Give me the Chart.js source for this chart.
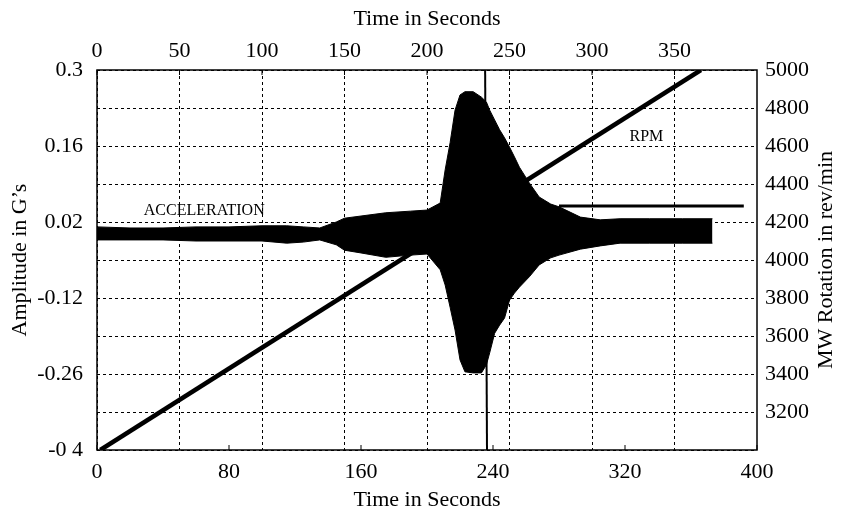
<!DOCTYPE html>
<html>
<head>
<meta charset="utf-8">
<script src="https://cdn.jsdelivr.net/npm/chart.js@4/dist/chart.umd.min.js"></script>
<style>
  body { margin: 0; background: #fff; }
  canvas { display: block; }
</style>
</head>
<body>
<canvas id="chart" width="842" height="513"></canvas>
<script>
// tiempos (s) donde se leyo la envolvente de la aceleracion
const accTimes = [0, 20, 40, 60, 80, 100, 115, 125, 135, 145, 150, 160, 175, 190, 200, 208, 211, 214, 217, 220, 223, 228, 233, 236, 238, 241, 244, 247, 250, 253, 256, 262, 268, 275, 280, 293, 305, 317, 335, 355, 373];
// borde superior e inferior de la banda (G)
const accUpper = [0.011, 0.009, 0.009, 0.011, 0.011, 0.013, 0.013, 0.011, 0.009, 0.020, 0.027, 0.031, 0.037, 0.040, 0.042, 0.055, 0.116, 0.166, 0.226, 0.254, 0.260, 0.260, 0.250, 0.241, 0.226, 0.208, 0.190, 0.175, 0.158, 0.140, 0.121, 0.092, 0.066, 0.053, 0.048, 0.029, 0.024, 0.026, 0.026, 0.026, 0.026];
const accLower = [-0.013, -0.013, -0.013, -0.015, -0.015, -0.015, -0.019, -0.017, -0.013, -0.022, -0.032, -0.037, -0.045, -0.041, -0.039, -0.068, -0.096, -0.137, -0.179, -0.234, -0.256, -0.258, -0.258, -0.243, -0.221, -0.185, -0.170, -0.157, -0.124, -0.111, -0.100, -0.081, -0.059, -0.046, -0.041, -0.030, -0.024, -0.019, -0.019, -0.019, -0.019];

// pico que sale del grafico
const spikeTimes = [235.2, 236.4];
const spikeValues = [0.32, -0.42];

// rpm del rotor
const rpmTimes = [2, 366];
const rpmValues = [3000, 5000];
const flatTimes = [280, 392];
const flatValues = [4284, 4284];

// etiquetas de los ejes
const leftTickValues = [-0.4, -0.26, -0.12, 0.02, 0.16, 0.3];
const leftTickLabels = ['-0 4', '-0.26', '-0.12', '0.02', '0.16', '0.3'];
const bottomTicks = [0, 80, 160, 240, 320, 400];
const topTicks = [0, 50, 100, 150, 200, 250, 300, 350];
const rightTicks = [3000, 3200, 3400, 3600, 3800, 4000, 4200, 4400, 4600, 4800, 5000];

const FONT = 'Liberation Serif, Times New Roman, serif';

const toXY = (xs, ys) => xs.map((x, i) => ({ x: x, y: ys[i] }));
const fixedTicks = vals => scale => { scale.ticks = vals.map(v => ({ value: v })); };

// caja, marcas interiores y textos
const extras = {
  id: 'extras',
  afterDraw(chart) {
    const { ctx, chartArea: a, scales } = chart;
    ctx.save();
    ctx.strokeStyle = '#000';
    ctx.lineWidth = 1.5;
    ctx.strokeRect(a.left, a.top, a.right - a.left, a.bottom - a.top);
    ctx.lineWidth = 1;
    ctx.beginPath();
    bottomTicks.forEach(v => {
      const px = scales.x.getPixelForValue(v);
      ctx.moveTo(px, a.bottom); ctx.lineTo(px, a.bottom - 5);
    });
    topTicks.forEach(v => {
      const px = scales.x2.getPixelForValue(v);
      ctx.moveTo(px, a.top); ctx.lineTo(px, a.top + 5);
    });
    ctx.stroke();

    ctx.fillStyle = '#000';
    ctx.font = '16px ' + FONT;
    ctx.textAlign = 'center';
    ctx.textBaseline = 'middle';
    ctx.fillText('ACCELERATION', scales.x.getPixelForValue(65), scales.y.getPixelForValue(0.04));
    ctx.fillText('RPM', scales.x.getPixelForValue(333), scales.yR.getPixelForValue(4647));

    // titulo del eje derecho, leido de abajo hacia arriba
    ctx.font = '22px ' + FONT;
    ctx.translate(826, (a.top + a.bottom) / 2);
    ctx.rotate(-Math.PI / 2);
    ctx.fillText('MW Rotation in rev/min', 0, 0);
    ctx.restore();
  }
};

const dashedGrid = { color: '#000', lineWidth: 1, drawTicks: false };

new Chart(document.getElementById('chart'), {
  type: 'line',
  data: {
    datasets: [
      { data: toXY(accTimes, accUpper), xAxisID: 'x', yAxisID: 'y', borderColor: '#000', borderWidth: 1, pointRadius: 0, fill: false, order: 2 },
      { data: toXY(accTimes, accLower), xAxisID: 'x', yAxisID: 'y', borderColor: '#000', borderWidth: 1, pointRadius: 0, fill: '-1', backgroundColor: '#000', order: 2 },
      { data: toXY(spikeTimes, spikeValues), xAxisID: 'x', yAxisID: 'y', borderColor: '#000', borderWidth: 2, pointRadius: 0, order: 1 },
      { data: toXY(rpmTimes, rpmValues), xAxisID: 'x', yAxisID: 'yR', borderColor: '#000', borderWidth: 4.5, pointRadius: 0, order: 1 },
      { data: toXY(flatTimes, flatValues), xAxisID: 'x', yAxisID: 'yR', borderColor: '#000', borderWidth: 3, pointRadius: 0, order: 1 }
    ]
  },
  options: {
    responsive: false,
    animation: false,
    events: [],
    layout: { padding: 0 },
    plugins: { legend: { display: false }, tooltip: { enabled: false } },
    scales: {
      x: {
        type: 'linear', position: 'bottom', min: 0, max: 400,
        afterBuildTicks: fixedTicks(bottomTicks),
        afterFit: s => { s.height = 63; },
        grid: { display: false },
        border: { display: false },
        ticks: { color: '#000', font: { family: FONT, size: 22 }, padding: 1 },
        title: { display: true, text: 'Time in Seconds', color: '#000', font: { family: FONT, size: 22 }, padding: 0 }
      },
      x2: {
        type: 'linear', position: 'top', min: 0, max: 400,
        afterBuildTicks: fixedTicks(topTicks),
        afterFit: s => { s.height = 70; },
        grid: dashedGrid,
        border: { display: false, dash: [3, 3] },
        ticks: { color: '#000', font: { family: FONT, size: 22 }, padding: 6 },
        title: { display: true, text: 'Time in Seconds', color: '#000', font: { family: FONT, size: 22 }, padding: { top: 6, bottom: 0 } }
      },
      y: {
        type: 'linear', position: 'left', min: -0.4, max: 0.3,
        afterBuildTicks: fixedTicks(leftTickValues),
        afterFit: s => { s.width = 97; },
        grid: { display: false },
        border: { display: false },
        ticks: {
          color: '#000', font: { family: FONT, size: 22 }, padding: 6,
          callback: (v, i) => leftTickLabels[i]
        },
        title: { display: true, text: 'Amplitude in G’s', color: '#000', font: { family: FONT, size: 22 }, padding: { top: 7, bottom: 0 } }
      },
      yR: {
        type: 'linear', position: 'right', min: 3000, max: 5000,
        afterBuildTicks: fixedTicks(rightTicks),
        afterFit: s => { s.width = 85; },
        grid: dashedGrid,
        border: { display: false, dash: [3, 3] },
        ticks: {
          color: '#000', font: { family: FONT, size: 22 }, padding: 8,
          callback: v => (v === 3000 ? '' : String(v))
        }
      }
    }
  },
  plugins: [extras]
});
</script>
</body>
</html>
